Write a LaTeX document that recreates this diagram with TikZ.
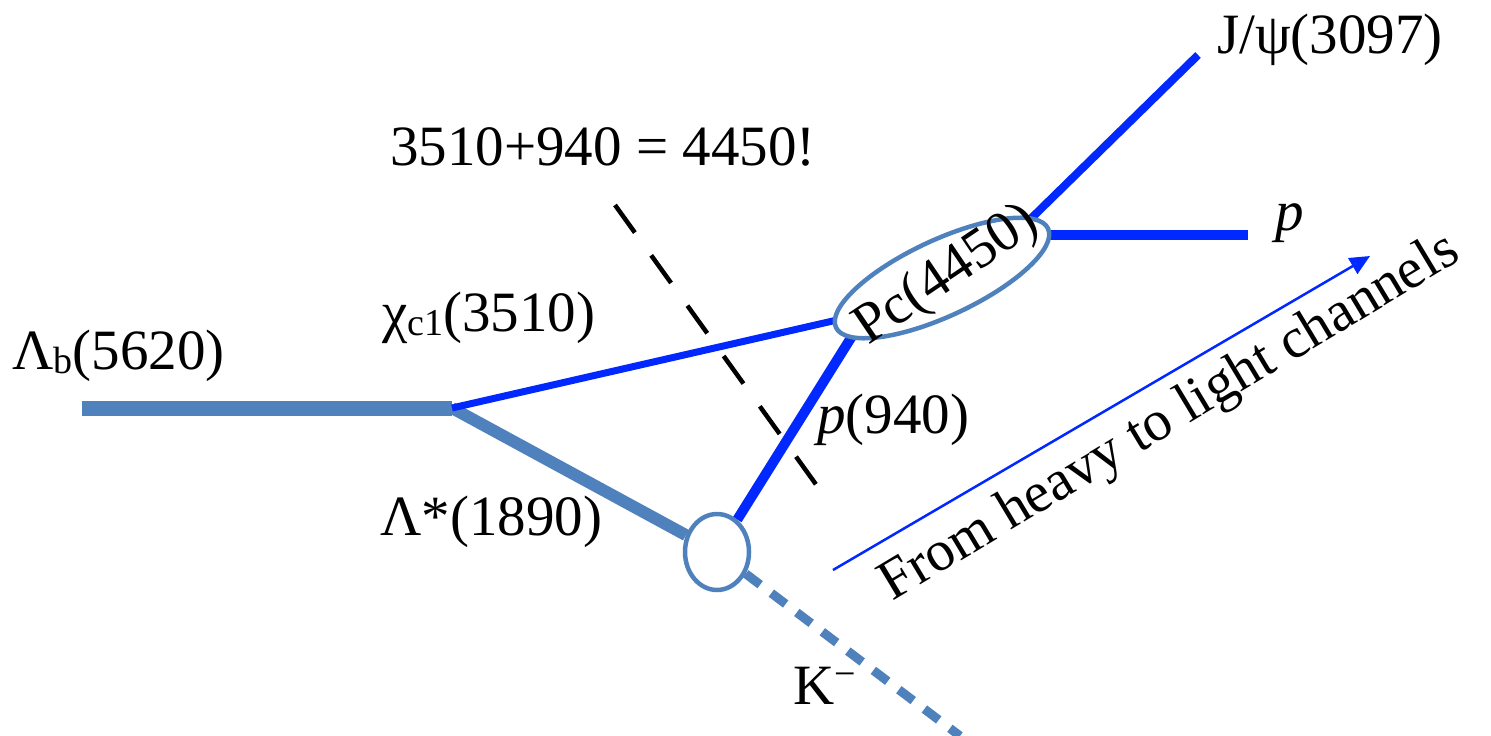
\documentclass[tikz,border=0pt]{standalone}
\usepackage{fontspec}
\setmainfont{Liberation Serif}
\usetikzlibrary{shapes.geometric,arrows.meta,backgrounds}
\definecolor{steel}{RGB}{79,129,189}
\definecolor{vivid}{RGB}{0,40,255}
\newcommand{\lowsub}[1]{\raisebox{-0.08em}{\fontsize{38}{40}\selectfont #1}}
\newcommand{\highsup}[1]{\raisebox{0.3em}{\fontsize{38}{40}\selectfont #1}}
\begin{document}
\begin{tikzpicture}[x=1pt,y=-1pt,
  lbl/.style={inner sep=0pt,anchor=base west,font=\fontsize{57}{68}\selectfont},
  heavyline/.style={color=steel,line width=#1},
  lightline/.style={color=vivid,line width=#1}]
\useasboundingbox (0,0) rectangle (1491,736);
\coordinate (lbstart) at (82,408);
\coordinate (V) at (452,408);
\node[ellipse,draw=steel,line width=4.5pt,minimum width=64pt,minimum height=76pt,inner sep=0pt] (lam) at (717,552) {};
\node[ellipse,draw=steel,fill=white,line width=4.5pt,minimum width=234pt,minimum height=76pt,inner sep=0pt,rotate=25] (pc) at (942,278) {};
\coordinate (pcchi) at (894,307);
\coordinate (pcp) at (874,301);
\coordinate (pcjpsi) at (1006,243);
\coordinate (pcpout) at (1000,235);
\coordinate (jpsiend) at (1198,55);
\coordinate (pend) at (1248,235);
\coordinate (kend) at (960,736);
\coordinate (dashtop) at (615,205);
\coordinate (dashbot) at (820,490);
\coordinate (arrs) at (833,570);
\coordinate (arre) at (1370,256);
\begin{pgfonlayer}{background}
  \draw[heavyline=15pt] (lbstart) -- (V);
  \draw[heavyline=12pt] (V) -- (lam);
  \draw[lightline=7pt] (V) -- (pcchi);
  \draw[lightline=10pt] (lam) -- (pcp);
  \draw[lightline=8pt] (pcjpsi) -- (jpsiend);
  \draw[lightline=10pt] (pcpout) -- (pend);
\end{pgfonlayer}
\draw[heavyline=9pt,dash pattern=on 18pt off 14pt] (lam) -- (kend);
\draw[black,line width=4.5pt,dash pattern=on 34pt off 28pt] (dashtop) -- (dashbot);
\draw[vivid,line width=2.5pt,-{Triangle[length=20pt,width=18pt]}] (arrs) -- (arre);
\node[lbl] (lb) at (12,369) {Λ\lowsub{b}(5620)};
\node[lbl] (chi) at (382,331) {χ\lowsub{c1}(3510)};
\node[lbl] (lamstar) at (380,535) {Λ*(1890)};
\node[lbl] (p940) at (817,433) {\textit{p}(940)};
\node[lbl] (sum) at (390,165) {3510+940 = 4450!};
\node[lbl] (kminus) at (793,704) {K\highsup{−}};
\node[lbl] (jpsi) at (1217,53) {J/ψ(3097)};
\node[lbl] (pout) at (1275,230) {\textit{p}};
\node[lbl,anchor=center,rotate=34] (pclbl) at (947,276) {Pc(4450)};
\node[lbl,rotate=31] (trend) at (892,602) {From heavy to light channels};
\end{tikzpicture}
\end{document}
